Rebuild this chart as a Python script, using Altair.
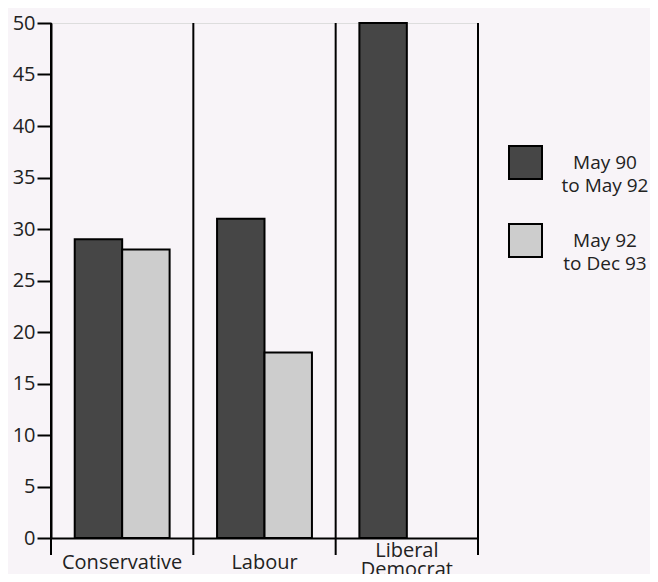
import altair as alt
import pandas as pd

parties = ["Conservative", "Labour", "Liberal Democrat"]
series = ["May 90 to May 92", "May 92 to Dec 93"]
values_s1 = [29, 31, 50]
values_s2 = [28, 18, None]
y_ticks = [0, 5, 10, 15, 20, 25, 30, 35, 40, 45, 50]

rows = []
for p, a, b in zip(parties, values_s1, values_s2):
    rows.append({"party": p, "series": series[0], "value": a})
    if b is not None:
        rows.append({"party": p, "series": series[1], "value": b})
df = pd.DataFrame(rows)
div_df = pd.DataFrame({"party": parties})

W, H = 427, 515
FONT = "Open Sans"
TXT = "#222222"
FS = 19

xscale = alt.Scale(domain=parties, paddingInner=0, paddingOuter=0)

bars = alt.Chart(df).mark_bar(stroke="black", strokeWidth=2).encode(
    x=alt.X("party:N", scale=xscale, sort=parties,
            axis=alt.Axis(title=None, labelAngle=0, ticks=False, domainColor="black",
                          domainWidth=2, labelFont=FONT, labelFontSize=FS + 1,
                          labelColor=TXT, labelBaseline="middle",
                          labelPadding=alt.condition("datum.value == 'Liberal Democrat'",
                                                     alt.value(12), alt.value(24)),
                          labelExpr="split(datum.label, ' ')", labelLineHeight=19)),
    xOffset=alt.XOffset("series:N", scale=alt.Scale(domain=series, paddingInner=0, paddingOuter=0.5)),
    y=alt.Y("value:Q", scale=alt.Scale(domain=[0, 50], nice=False),
            axis=alt.Axis(title=None, values=y_ticks, tickSize=14, tickColor="black",
                          tickWidth=2, domainColor="black", domainWidth=2, grid=False,
                          labelFont=FONT, labelFontSize=FS + 1, labelColor=TXT, labelPadding=2)),
    color=alt.Color("series:N", scale=alt.Scale(domain=series, range=["#464646", "#cdcdcd"]),
                    legend=alt.Legend(title=None, orient="none", legendX=457, legendY=122,
                                      symbolType="square", symbolSize=1089,
                                      symbolStrokeColor="black", symbolStrokeWidth=2,
                                      labelFont=FONT, labelFontSize=FS, labelColor=TXT,
                                      labelAlign="center", labelOffset=62,
                                      rowPadding=24, padding=0,
                                      labelExpr="[slice(datum.label,0,6), slice(datum.label,7)]")),
)

dividers = alt.Chart(div_df).mark_rule(color="black", strokeWidth=2).encode(
    x=alt.X("party:N", scale=xscale, sort=parties, bandPosition=0),
    y=alt.value(0),
    y2=alt.value(H + 17),
)

end_rule = alt.Chart(div_df.head(1)).mark_rule(color="black", strokeWidth=2).encode(
    x=alt.value(W), y=alt.value(0), y2=alt.value(H + 17)
)

chart = alt.layer(bars, dividers, end_rule).properties(
    width=W, height=H,
    autosize=alt.AutoSizeParams(type="none"),
    padding={"left": 43, "top": 15, "right": 172, "bottom": 36},
    background="#f8f4f8",
).configure_view(stroke="black", strokeWidth=2).configure(
    style={"guide-label": {"lineHeight": 23}}
)

chart.save("out.html", embed_options={"renderer": "svg", "actions": False})
